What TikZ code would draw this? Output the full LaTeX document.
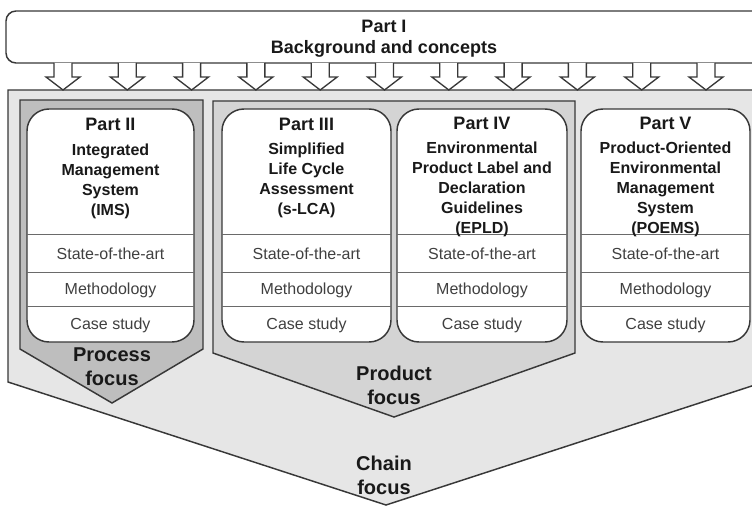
\documentclass[tikz,border=0pt]{standalone}
\usepackage{fontspec}
\setmainfont{Liberation Sans}
\usepackage{tikz}
\usetikzlibrary{positioning}

\definecolor{chaingray}{HTML}{E6E6E6}
\definecolor{productgray}{HTML}{D4D4D4}
\definecolor{processgray}{HTML}{BEBEBE}
\definecolor{linegray}{HTML}{383838}
\definecolor{textgray}{HTML}{404040}

\tikzset{
  outline/.style={draw=linegray, line width=1.1pt, line join=miter},
  partbox/.style={outline, fill=white, rounded corners=16.5pt},
  cellline/.style={draw=linegray!75, line width=0.7pt},
  parttitle/.style={font=\fontsize{13.5}{16}\selectfont\bfseries, text=black!90, inner sep=0pt},
  partsub/.style={font=\fontsize{12}{15}\selectfont\bfseries, text=black!90, align=center, inner sep=0pt},
  celltext/.style={font=\fontsize{12}{14}\selectfont, text=textgray},
  focustext/.style={font=\fontsize{15}{18}\selectfont\bfseries, text=black!90, align=center},
  downarrow/.style={outline, fill=white, line width=1pt},
}

\begin{document}
\begin{tikzpicture}[x=0.75pt, y=-0.75pt]
		\useasboundingbox (0,0) rectangle (752,506);
		
		% focus areas
		\draw[outline, fill=chaingray] (8,90) -- (764,90) -- (764,382) -- (386,505) -- (8,382) -- cycle;
		\draw[outline, fill=processgray] (20,100) -- (203,100) -- (203,349) -- (112,403) -- (20,349) -- cycle;
		\draw[outline, fill=productgray] (213,101) -- (575,101) -- (575,353) -- (394,417) -- (213,353) -- cycle;
		
		% part I
		\draw[outline, fill=white, rounded corners=7.5pt] (6,11) rectangle (780,63);
		\node[parttitle] (p1) at (384,26) {Part I};
		\node[parttitle, below=6pt of p1] (p1t) {Background and concepts};
		
		\foreach \i in {0,...,10}{
			\pgfmathsetmacro{\ax}{63+64.3*\i}
			\draw[downarrow] (\ax-9,63) -- (\ax-9,77) -- (\ax-17,77) -- (\ax,90) -- (\ax+17,77) -- (\ax+9,77) -- (\ax+9,63);
		}
		
		% parts II to V
		\foreach \l/\r/\n in {27/194/p2, 222/391/p3, 397/567/p4, 581/750/p5}{
			\draw[partbox] (\l,109) rectangle (\r,342);
			\draw[cellline] (\l,234) -- (\r,234) (\l,272) -- (\r,272) (\l,306) -- (\r,306);
			\node[celltext] (\n-sota) at ({(\l+\r)/2},254) {State-of-the-art};
			\node[celltext] (\n-meth) at ({(\l+\r)/2},290) {Methodology};
			\node[celltext] (\n-case) at ({(\l+\r)/2},325) {Case study};
		}
		
		\node[parttitle] (p2) at (110.5,124) {Part II};
		\node[partsub, below=9.5pt of p2] (p2t) {Integrated\\Management\\System\\(IMS)};
		
		\node[parttitle] (p3) at (306.5,124) {Part III};
		\node[partsub, below=9pt of p3] (p3t) {Simplified\\Life Cycle\\Assessment\\(s-LCA)};
		
		\node[parttitle] (p4) at (482,123) {Part IV};
		\node[partsub, below=9pt of p4] (p4t) {Environmental\\Product Label and\\Declaration\\Guidelines\\(EPLD)};
		
		\node[parttitle] (p5) at (665.5,123) {Part V};
		\node[partsub, below=9pt of p5] (p5t) {Product-Oriented\\Environmental\\Management\\System\\(POEMS)};
		
		\node[focustext] (procf) at (112,367) {Process\\focus};
		\node[focustext] (prodf) at (394,385) {Product\\focus};
		\node[focustext] (chainf) at (384,475) {Chain\\focus};
	\end{tikzpicture}
\end{document}
